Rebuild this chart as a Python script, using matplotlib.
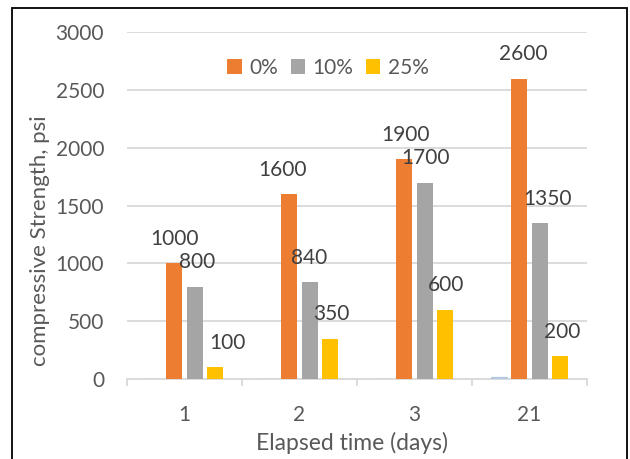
import matplotlib
matplotlib.use("Agg")
import matplotlib.pyplot as plt
import numpy as np
from matplotlib.patches import Rectangle

plt.rcParams['font.family'] = ['Lato', 'DejaVu Sans']

# ---- data ----
categories = ["1", "2", "3", "21"]
series_names = ["0%", "10%", "25%"]
days_series = [1, 2, 3, 21]            # pale, un-legended series at the baseline
s0 = [1000, 1600, 1900, 2600]
s10 = [800, 840, 1700, 1350]
s25 = [100, 350, 600, 200]
yticks = [0, 500, 1000, 1500, 2000, 2500, 3000]

# ---- style ----
colors = ["#ED7D31", "#A5A5A5", "#FFC000"]
blue = "#B4C8E2"
grid_c = "#D9D9D9"
tick_c = "#595959"
label_c = "#404040"
fs = 15

# label horizontal nudges (points) for the 3 legend series
nudges = [[0, 2, 9],
          [-5, 0, 1],
          [1, 1, 1],
          [3, 6, 2]]

fig = plt.figure(figsize=(6.3, 4.59), dpi=100)
ax = fig.add_axes([127/630, 1-379/459, 460/630, (379-32.3)/459])

x = np.arange(len(categories))
step = 0.176
w = 0.14
ax.bar(x - 1.5*step, days_series, width=w, color=blue, edgecolor=blue,
       linewidth=0.9, label="_nolegend_", zorder=3)
all_series = [s0, s10, s25]
for i, (vals, name, c) in enumerate(zip(all_series, series_names, colors)):
    off = (i - 0.5) * step
    ax.bar(x + off, vals, width=w, color=c, label=name, zorder=3)
    for j, v in enumerate(vals):
        ax.annotate(str(v), xy=(x[j] + off, v), xytext=(nudges[j][i], 17.5),
                    textcoords="offset points", ha="center", va="center",
                    fontsize=fs, color=label_c, zorder=5)

ax.set_xlim(-0.5, len(categories) - 0.5)
ax.set_ylim(0, 3000)
ax.set_yticks(yticks)
ax.set_yticklabels([str(t) for t in yticks])
ax.yaxis.grid(True, color=grid_c, linewidth=1.3, zorder=0)
ax.set_axisbelow(True)

ax.set_xticks(x)
ax.set_xticklabels(categories)
ax.set_xticks(np.arange(-0.5, len(categories)), minor=True)
ax.tick_params(axis="x", which="major", length=0, pad=18.5, labelsize=fs, labelcolor=tick_c)
ax.tick_params(axis="x", which="minor", length=5, width=1.3, color=grid_c, direction="out")
ax.tick_params(axis="y", length=0, pad=16.5, labelsize=fs, labelcolor=tick_c)

for s in ["left", "right", "top"]:
    ax.spines[s].set_visible(False)
ax.spines["bottom"].set_color(grid_c)
ax.spines["bottom"].set_linewidth(1.3)

fig.text(40/630, 1-241/459, "compressive Strength, psi", rotation=90,
         ha="center", va="center", fontsize=16, color=tick_c)
fig.text(352/630, 1-443/459, "Elapsed time (days)", ha="center", va="center",
         fontsize=16.5, color=tick_c)

leg = ax.legend(loc="center", bbox_to_anchor=(0.437, 0.897), ncol=3, frameon=False,
                fontsize=fs, handlelength=0.7, handleheight=0.7,
                handletextpad=0.35, columnspacing=0.6, labelcolor=tick_c)

fig.patches.append(Rectangle((12/630, -0.02), (627-12)/630, 1.02 - 8/459,
                             transform=fig.transFigure, fill=False,
                             edgecolor="black", linewidth=1.3))

fig.savefig("out.png", dpi=100)
